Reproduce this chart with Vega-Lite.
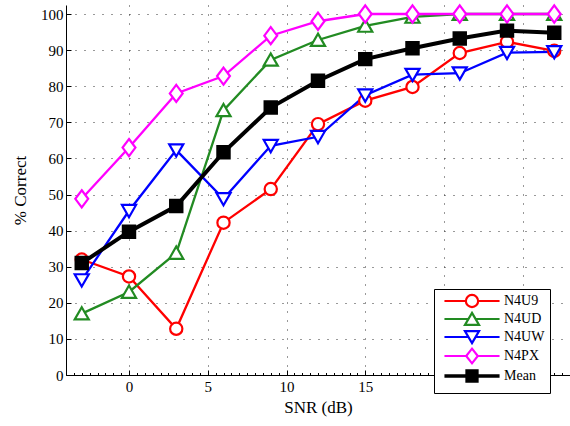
{
  "$schema": "https://vega.github.io/schema/vega-lite/v6.json",
  "autosize": "none",
  "width": 504,
  "height": 370,
  "padding": {"left": 66, "top": 5, "right": 0, "bottom": 51},
  "background": "white",
  "config": {
    "view": {"stroke": null},
    "font": "Liberation Serif",
    "axis": {
      "domainColor": "black",
      "domainWidth": 1,
      "tickColor": "black",
      "labelColor": "black",
      "titleColor": "black",
      "labelFont": "Liberation Serif",
      "titleFont": "Liberation Serif",
      "labelFontSize": 15,
      "titleFontSize": 17,
      "titleFontWeight": "normal",
      "gridColor": "#333333",
      "gridDash": [1, 8],
      "gridWidth": 1,
      "gridOpacity": 1
    }
  },
  "data": {
    "values": [
      {"snr": -3, "series": "N4U9", "pc": 32},
      {"snr": 0, "series": "N4U9", "pc": 27.3},
      {"snr": 3, "series": "N4U9", "pc": 12.8},
      {"snr": 6, "series": "N4U9", "pc": 42.2},
      {"snr": 9, "series": "N4U9", "pc": 51.5},
      {"snr": 12, "series": "N4U9", "pc": 69.5},
      {"snr": 15, "series": "N4U9", "pc": 76},
      {"snr": 18, "series": "N4U9", "pc": 79.8},
      {"snr": 21, "series": "N4U9", "pc": 89.2},
      {"snr": 24, "series": "N4U9", "pc": 92.3},
      {"snr": 27, "series": "N4U9", "pc": 89.8},
      {"snr": -3, "series": "N4UD", "pc": 17},
      {"snr": 0, "series": "N4UD", "pc": 23},
      {"snr": 3, "series": "N4UD", "pc": 33.8},
      {"snr": 6, "series": "N4UD", "pc": 73.3},
      {"snr": 9, "series": "N4UD", "pc": 87.3},
      {"snr": 12, "series": "N4UD", "pc": 92.8},
      {"snr": 15, "series": "N4UD", "pc": 96.7},
      {"snr": 18, "series": "N4UD", "pc": 99.2},
      {"snr": 21, "series": "N4UD", "pc": 100},
      {"snr": 24, "series": "N4UD", "pc": 100},
      {"snr": 27, "series": "N4UD", "pc": 100},
      {"snr": -3, "series": "N4UW", "pc": 26.3},
      {"snr": 0, "series": "N4UW", "pc": 45.5},
      {"snr": 3, "series": "N4UW", "pc": 62.3},
      {"snr": 6, "series": "N4UW", "pc": 48.8},
      {"snr": 9, "series": "N4UW", "pc": 63.5},
      {"snr": 12, "series": "N4UW", "pc": 66},
      {"snr": 15, "series": "N4UW", "pc": 77.5},
      {"snr": 18, "series": "N4UW", "pc": 83.2},
      {"snr": 21, "series": "N4UW", "pc": 83.6},
      {"snr": 24, "series": "N4UW", "pc": 89.3},
      {"snr": 27, "series": "N4UW", "pc": 89.5},
      {"snr": -3, "series": "N4PX", "pc": 48.8},
      {"snr": 0, "series": "N4PX", "pc": 63},
      {"snr": 3, "series": "N4PX", "pc": 78},
      {"snr": 6, "series": "N4PX", "pc": 82.8},
      {"snr": 9, "series": "N4PX", "pc": 94},
      {"snr": 12, "series": "N4PX", "pc": 98},
      {"snr": 15, "series": "N4PX", "pc": 100},
      {"snr": 18, "series": "N4PX", "pc": 100},
      {"snr": 21, "series": "N4PX", "pc": 100},
      {"snr": 24, "series": "N4PX", "pc": 100},
      {"snr": 27, "series": "N4PX", "pc": 100},
      {"snr": -3, "series": "Mean", "pc": 31},
      {"snr": 0, "series": "Mean", "pc": 39.7},
      {"snr": 3, "series": "Mean", "pc": 46.8},
      {"snr": 6, "series": "Mean", "pc": 61.7},
      {"snr": 9, "series": "Mean", "pc": 74.1},
      {"snr": 12, "series": "Mean", "pc": 81.5},
      {"snr": 15, "series": "Mean", "pc": 87.5},
      {"snr": 18, "series": "Mean", "pc": 90.5},
      {"snr": 21, "series": "Mean", "pc": 93.2},
      {"snr": 24, "series": "Mean", "pc": 95.4},
      {"snr": 27, "series": "Mean", "pc": 94.8}
    ]
  },
  "encoding": {
    "x": {
      "field": "snr",
      "type": "quantitative",
      "title": "SNR (dB)",
      "scale": {"domain": [-4, 28], "nice": false, "zero": false},
      "axis": {
        "values": [-4, -3.5, -3, -2.5, -2, -1.5, -1, -0.5, 0, 0.5, 1, 1.5, 2, 2.5, 3, 3.5, 4, 4.5, 5, 5.5, 6, 6.5, 7, 7.5, 8, 8.5, 9, 9.5, 10, 10.5, 11, 11.5, 12, 12.5, 13, 13.5, 14, 14.5, 15, 15.5, 16, 16.5, 17, 17.5, 18, 18.5, 19, 19.5, 20, 20.5, 21, 21.5, 22, 22.5, 23, 23.5, 24, 24.5, 25, 25.5, 26, 26.5, 27, 27.5, 28],
        "labelExpr": "datum.value % 5 === 0 ? format(datum.value, 'd') : ''",
        "labelOverlap": false,
        "labelFlush": false,
        "labelPadding": 9,
        "titlePadding": 3,
        "tickSize": {"condition": {"test": "datum.value % 5 === 0", "value": -5}, "value": -2.5},
        "gridOpacity": {"condition": {"test": "datum.value % 5 === 0 && datum.value >= 0", "value": 1}, "value": 0}
      }
    },
    "y": {
      "field": "pc",
      "type": "quantitative",
      "title": "% Correct",
      "scale": {"domain": [0, 102.5], "nice": false},
      "axis": {
        "values": [0, 10, 20, 30, 40, 50, 60, 70, 80, 90, 100],
        "tickSize": -5,
        "labelPadding": 8,
        "titlePadding": 11,
        "gridOpacity": {"condition": {"test": "datum.value > 0", "value": 1}, "value": 0}
      }
    },
    "stroke": {
      "field": "series",
      "type": "nominal",
      "scale": {"domain": ["N4U9", "N4UD", "N4UW", "N4PX", "Mean"], "range": ["#ff0000", "#228b22", "#0000ff", "#ff00ff", "#000000"]},
      "legend": {
        "orient": "none",
        "legendX": 368,
        "legendY": 284,
        "title": null,
        "strokeColor": "black",
        "fillColor": "white",
        "padding": 5,
        "symbolSize": 150,
        "symbolOffset": 26,
        "labelOffset": 25,
        "labelFontSize": 14,
        "labelFont": "Liberation Serif",
        "labelColor": "black",
        "rowPadding": -4,
        "symbolType": {"expr": "datum.value === 'N4U9' ? 'M-4.5,0L-1,0M1,0L4.5,0M-1,0A1,1,0,1,1,1,0A1,1,0,1,1,-1,0Z' : datum.value === 'N4UD' ? 'M-4.5,0L-0.6,0M0.6,0L4.5,0M0,-1.0L1.15,0.95L-1.15,0.95Z' : datum.value === 'N4UW' ? 'M-4.5,0L-0.6,0M0.6,0L4.5,0M0,1.0L1.15,-0.95L-1.15,-0.95Z' : datum.value === 'N4PX' ? 'M-4.5,0L-0.95,0M0.95,0L4.5,0M0,-1.2L0.95,0L0,1.2L-0.95,0Z' : 'M-4.5,0L4.5,0M-0.8,-0.8L0.8,-0.8L0.8,0.8L-0.8,0.8ZM-0.8,-0.27L0.8,-0.27M-0.8,0.27L0.8,0.27'"},
        "symbolFillColor": {"expr": "datum.value === 'Mean' ? 'black' : 'white'"},
        "symbolStrokeWidth": {"expr": "datum.value === 'Mean' ? 3.5 : 2.2"},
        "symbolOpacity": 1
      }
    }
  },
  "layer": [
    {
      "mark": {"type": "line", "strokeCap": "butt", "strokeJoin": "miter"},
      "encoding": {
        "strokeWidth": {"condition": {"test": "datum.series === 'Mean'", "value": 4}, "value": 2.3}
      }
    },
    {
      "transform": [{"filter": "datum.series === 'N4U9'"}],
      "mark": {"type": "point", "shape": "circle", "fill": "white", "filled": false, "strokeWidth": 2.2, "opacity": 1, "fillOpacity": 1, "size": 150}
    },
    {
      "transform": [{"filter": "datum.series === 'N4UD'"}],
      "mark": {"type": "point", "shape": "M0,-1.05L1.15,0.95L-1.15,0.95Z", "fill": "white", "filled": false, "strokeWidth": 2.2, "opacity": 1, "fillOpacity": 1, "size": 150}
    },
    {
      "transform": [{"filter": "datum.series === 'N4UW'"}],
      "mark": {"type": "point", "shape": "M0,1.05L1.15,-0.95L-1.15,-0.95Z", "fill": "white", "filled": false, "strokeWidth": 2.2, "opacity": 1, "fillOpacity": 1, "size": 150}
    },
    {
      "transform": [{"filter": "datum.series === 'N4PX'"}],
      "mark": {"type": "point", "shape": "M0,-1.4L1.05,0L0,1.4L-1.05,0Z", "fill": "white", "filled": false, "strokeWidth": 2.2, "opacity": 1, "fillOpacity": 1, "size": 150}
    },
    {
      "transform": [{"filter": "datum.series === 'Mean'"}],
      "mark": {"type": "point", "shape": "square", "fill": "black", "filled": false, "strokeWidth": 2.2, "opacity": 1, "fillOpacity": 1, "size": 150}
    }
  ]
}
